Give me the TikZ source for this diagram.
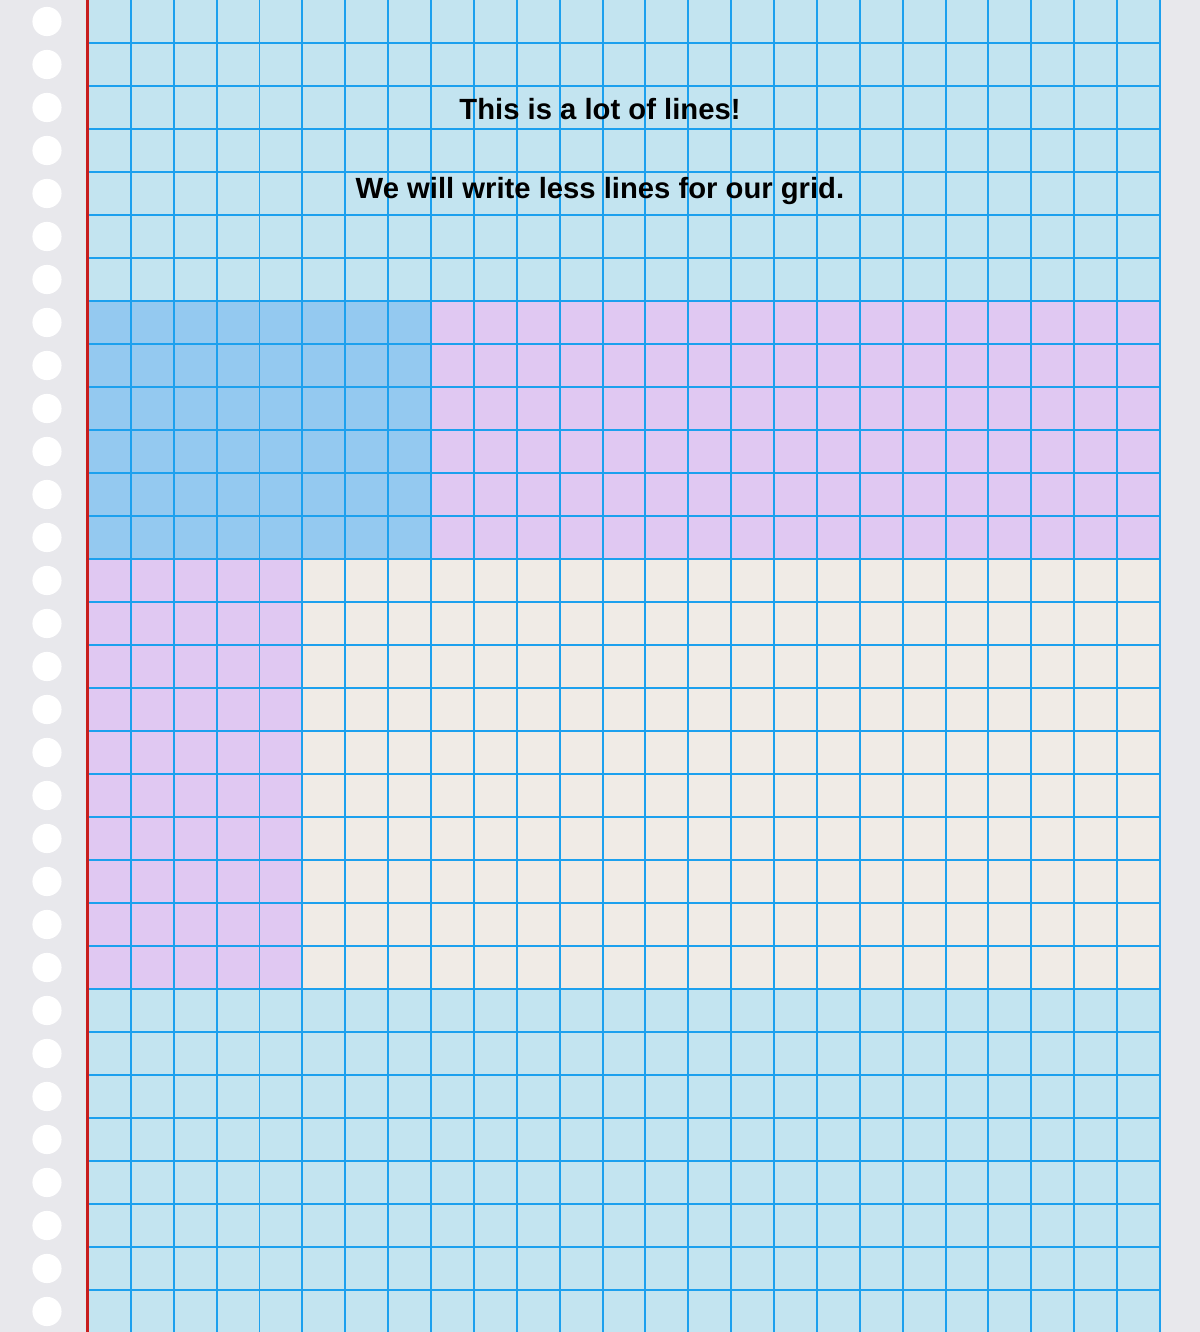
\documentclass[tikz,border=0pt]{standalone}
\usepackage{fontspec}
\setmainfont{Liberation Sans}
\usepackage{xcolor}
\usetikzlibrary{positioning}
\definecolor{pagegray}{HTML}{E8E8EC}
\definecolor{paperblue}{HTML}{C3E4F0}
\definecolor{deepblue}{HTML}{94C9F0}
\definecolor{lilac}{HTML}{E0C8F2}
\definecolor{sand}{HTML}{F0EBE6}
\definecolor{gridblue}{HTML}{1CA0EE}
\definecolor{marginred}{HTML}{C81E1E}
\tikzset{
  gridline/.style={gridblue,line width=1.3pt},
  margline/.style={marginred,line width=2pt},
  holedot/.style={fill=white},
  headtext/.style={anchor=base,inner sep=0pt,font=\bfseries\fontsize{19.4}{22}\selectfont},
}

\begin{document}
\begin{tikzpicture}[x=1cm,y=-1.0028cm]
  \useasboundingbox (-2.052,0) rectangle (25.933,30.977);
  % page and margin
  \fill[pagegray] (-2.052,0) rectangle (25.933,30.977);
  \fill[paperblue] (0,0) rectangle (25,30.977);
  % coloured blocks
  \fill[deepblue] (0,7) rectangle (8,13);
  \fill[lilac] (8,7) rectangle (25,13);
  \fill[lilac] (0,13) rectangle (5,23);
  \fill[sand] (5,13) rectangle (25,23);
  % grid
  \foreach \r in {1,...,30}
    \draw[gridline] (0,\r) -- (25,\r);
  \foreach \c in {1,...,25}
    \draw[gridline] (\c,0) -- (\c,30.977);
  \draw[margline] (0,0) -- (0,30.977);
  % punched holes
  \foreach \k in {0,...,30}
    \fill[holedot] (-0.956,\k+0.5) circle (0.34);
  % text
  \node[headtext] (title) at (11.94,2.78) {This is a lot of lines!};
  \node[headtext] (subtitle) at (11.94,4.62) {We will write less lines for our grid.};
\end{tikzpicture}
\end{document}
